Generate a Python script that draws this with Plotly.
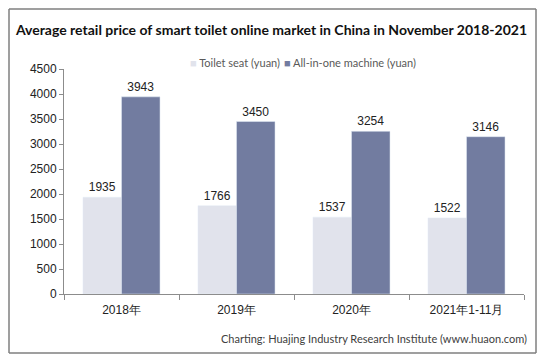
import plotly.graph_objects as go

categories = ["2018年", "2019年", "2020年", "2021年1-11月"]
toilet_seat = [1935, 1766, 1537, 1522]
all_in_one = [3943, 3450, 3254, 3146]
series_names = ["Toilet seat (yuan)", "All-in-one machine (yuan)"]
series_colors = ["#e1e3ec", "#727ca0"]
title_text = "Average retail price of smart toilet online market in China in November 2018-2021"
source_text = "Charting: Huajing Industry Research Institute (www.huaon.com)"

W, H = 544, 360
L, R, T, B = 64, 20, 69, 66
pw, ph = W - L - R, H - T - B

def px(x):
    return (x - L) / pw

def py(y):
    return (H - B - y) / ph

fig = go.Figure()
for name, vals, col in zip(series_names, [toilet_seat, all_in_one], series_colors):
    fig.add_trace(go.Bar(
        x=categories, y=vals, name=name,
        marker_color=col, text=vals, textposition="outside",
        textfont=dict(family="Liberation Sans, Arial", size=12, color="#222"),
        cliponaxis=False, showlegend=False, hoverinfo="skip",
    ))

legend_font = dict(family="Lato, Open Sans", size=11, color="#595959")
legend_ann = [
    dict(text='<span style="color:%s">■</span> %s' % (series_colors[0], series_names[0]),
         x=px(188), y=py(62)),
    dict(text='<span style="color:%s">■</span> %s' % (series_colors[1], series_names[1]),
         x=px(282), y=py(62)),
]
annotations = []
for a in legend_ann:
    a.update(xref="paper", yref="paper", xanchor="left", yanchor="middle",
             showarrow=False, font=legend_font)
    annotations.append(a)
annotations.append(dict(
    text=source_text, xref="paper", yref="paper",
    x=px(529), y=py(338), xanchor="right", yanchor="middle",
    showarrow=False,
    font=dict(family="Lato, Open Sans", size=11, color="#404040"),
))

frame = [
    dict(type="line", xref="paper", yref="paper", x0=px(9), x1=px(536), y0=py(9), y1=py(9)),
    dict(type="line", xref="paper", yref="paper", x0=px(9), x1=px(536), y0=py(353), y1=py(353)),
    dict(type="line", xref="paper", yref="paper", x0=px(9), x1=px(9), y0=py(9), y1=py(353)),
    dict(type="line", xref="paper", yref="paper", x0=px(536), x1=px(536), y0=py(9), y1=py(353)),
]
for s in frame:
    s.update(line=dict(color="#7f7f7f", width=1.5), layer="above")

fig.update_layout(
    width=W, height=H,
    margin=dict(l=L, r=R, t=T, b=B, autoexpand=False),
    paper_bgcolor="white", plot_bgcolor="white",
    barmode="group", bargap=0.33, bargroupgap=0,
    showlegend=False,
    title=dict(
        text="<b>" + title_text + "</b>",
        x=(16 + 527) / 2 / W, xref="container", xanchor="center",
        y=1 - 30 / H, yref="container", yanchor="middle",
        font=dict(family="Lato, Open Sans", size=14, color="#111"),
    ),
    xaxis=dict(
        showline=True, linecolor="#8c8c8c", linewidth=1,
        ticks="outside", tickson="boundaries", ticklen=5, tickcolor="#8c8c8c",
        ticklabelstandoff=5,
        tickfont=dict(family="Liberation Sans, Arial", size=12, color="#222"),
        showgrid=False, zeroline=False,
    ),
    yaxis=dict(
        range=[0, 4500], dtick=500,
        showline=True, linecolor="#8c8c8c", linewidth=1,
        ticks="outside", ticklen=4, tickcolor="#8c8c8c",
        tickfont=dict(family="Liberation Sans, Arial", size=12, color="#222"),
        showgrid=False, zeroline=False,
    ),
    shapes=frame,
    annotations=annotations,
)

fig.write_html("out.html", config={"displayModeBar": False},
               post_script="document.body.style.margin='0';")
